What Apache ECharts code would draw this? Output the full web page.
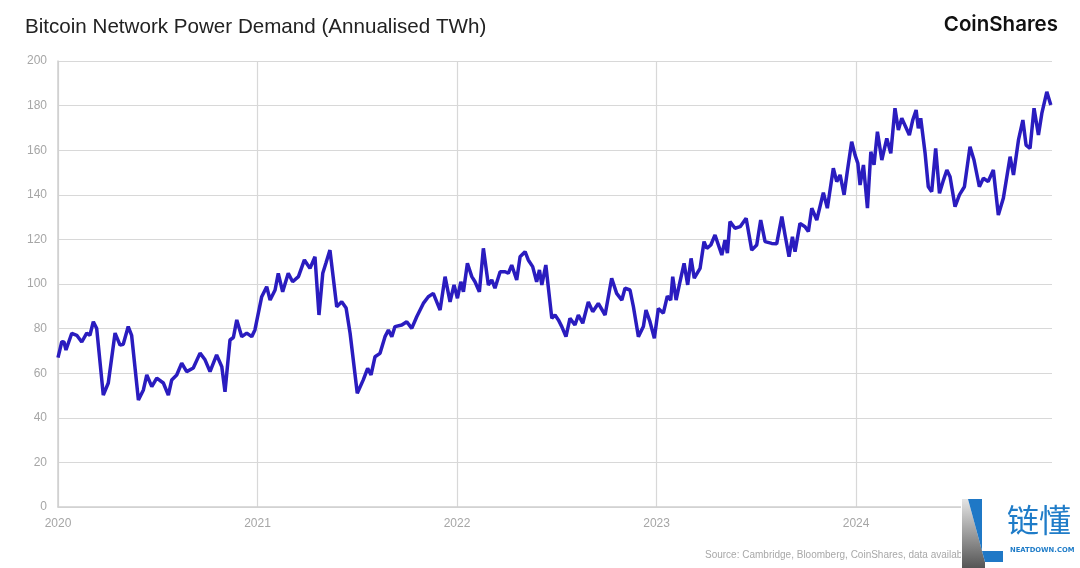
<!DOCTYPE html>
<html>
<head>
<meta charset="utf-8">
<script src="https://cdn.jsdelivr.net/npm/echarts@6/dist/echarts.min.js"></script>
<style>html,body{margin:0;padding:0;background:#fff;}#c{width:1080px;height:568px;}</style>
</head>
<body>
<div id="c"></div>
<script>
// Decimal year of each reading
const years = [
2020.000,2020.019,2020.030,2020.040,2020.069,2020.094,2020.119,2020.144,2020.160,2020.177,2020.194,
2020.227,2020.252,2020.286,2020.311,2020.327,2020.352,2020.369,2020.403,2020.428,2020.445,2020.470,
2020.495,2020.528,2020.553,2020.570,2020.595,2020.620,2020.645,2020.678,2020.712,2020.737,2020.762,
2020.795,2020.821,2020.837,2020.862,2020.879,2020.896,2020.921,2020.946,2020.971,2020.987,
2021.021,2021.046,2021.063,2021.088,2021.104,2021.126,2021.154,2021.176,2021.205,2021.235,2021.263,
2021.288,2021.308,2021.327,2021.343,2021.363,2021.397,2021.422,2021.444,2021.464,2021.500,2021.530,
2021.552,2021.569,2021.589,2021.614,2021.639,2021.656,2021.673,2021.689,2021.723,2021.748,2021.773,
2021.798,2021.831,2021.856,2021.881,2021.915,2021.940,2021.965,2021.985,
2022.002,2022.019,2022.032,2022.052,2022.074,2022.090,2022.112,2022.132,2022.157,2022.174,2022.190,
2022.216,2022.241,2022.257,2022.274,2022.299,2022.316,2022.341,2022.357,2022.379,2022.399,2022.413,
2022.425,2022.445,2022.475,2022.491,2022.508,2022.525,2022.546,2022.566,2022.591,2022.608,2022.630,
2022.658,2022.680,2022.708,2022.742,2022.775,2022.800,2022.826,2022.842,2022.867,2022.884,2022.909,
2022.934,2022.947,2022.967,2022.989,
2023.009,2023.034,2023.054,2023.071,2023.081,2023.098,2023.114,2023.138,2023.156,2023.173,2023.189,
2023.218,2023.238,2023.252,2023.272,2023.293,2023.327,2023.343,2023.355,2023.368,2023.393,2023.419,
2023.449,2023.477,2023.502,2023.522,2023.544,2023.577,2023.602,2023.628,2023.644,2023.664,2023.681,
2023.694,2023.719,2023.744,2023.761,2023.778,2023.803,2023.836,2023.856,2023.886,2023.903,2023.920,
2023.940,2023.956,2023.978,2023.995,
2024.009,2024.020,2024.037,2024.057,2024.074,2024.090,2024.107,2024.129,2024.154,2024.174,2024.195,
2024.212,2024.229,2024.246,2024.267,2024.284,2024.301,2024.312,2024.324,2024.346,2024.362,2024.379,
2024.399,2024.418,2024.438,2024.455,2024.471,2024.496,2024.518,2024.543,2024.571,2024.591,2024.618,
2024.638,2024.662,2024.688,2024.713,2024.738,2024.772,2024.789,2024.814,2024.836,2024.852,2024.872,
2024.892,2024.914,2024.931,2024.956,2024.976
];
// Annualised TWh
const powerTWh = [
67,74.1,74,70.4,77.9,77,74,78,77,83.1,80,
50.2,55.6,78,72.6,73,80.9,77,48,52.5,59.2,54,
57.8,55.6,50.2,57,59.2,64.5,60.7,62.3,69,66,60.7,
68.2,62.9,51.7,74.9,76,83.9,76.4,78,76.4,79.4,
94.3,98.8,92.8,97.3,104.8,96.5,104.8,101,103.3,110.8,107,
112.2,86.1,104.8,109.4,115.2,89.8,92,89.2,77.9,51,57,
62.2,59.2,67.4,68.9,76.4,79.4,76.4,80.9,81.6,83.1,80.1,
85.3,91.3,94.3,95.8,88.3,103.3,92,99.6,
93.6,101,96.5,109.3,103.3,101,96.5,116,99.6,101.8,98.1,
105.5,105.5,104.8,108.5,101.8,112.2,114.5,110.8,107.8,101,106.3,
99.6,108.5,84.6,86.1,83.9,80.9,76.4,84.6,81.6,86.1,82.4,
92,87.6,91.3,86.1,102.6,95.8,92.8,98.1,97.3,89.8,76.4,
80.9,88.3,83.1,75.7,
89,86.9,94.6,92.8,103.3,92.8,99.6,109.3,99.6,111.5,102.6,
107,119,116,117.5,122,113,119.7,113.8,128,125,125.7,
129.5,115.2,117.5,128.7,119,118.2,118,130.2,122,112.2,121.2,
114.5,127.2,125.7,123.5,134,128.7,141,134,151.9,145.9,148.9,
140,150.4,163.8,157.8,
154.1,144.4,153.4,134,159.3,153.4,168.3,155.6,165.3,158.6,178.8,
169.1,174.3,171,166.8,173.5,178,169.8,174.3,158.6,143.6,141.4,
160.8,140.7,146.6,151.1,148.1,134.7,140,143.6,161.6,155.6,143.6,
147.4,146,151.1,130.9,138.4,157.1,148.9,164.6,173.5,162.3,160.8,
178.8,166.8,176.5,186.2,180.3
];
const yearTicks = [2020, 2021, 2022, 2023, 2024];
const yTicks = [0, 20, 40, 60, 80, 100, 120, 140, 160, 180, 200];

const titleText = 'Bitcoin Network Power Demand (Annualised TWh)';
const brandText = 'CoinShares';
const sourceText = 'Source: Cambridge, Bloomberg, CoinShares, data available at https://ccaf.io/cbnsi/cbeci';

const pts = years.map((y, i) => [y, powerTWh[i]]);

const chart = echarts.init(document.getElementById('c'), null, {renderer: 'canvas'});
chart.setOption({
  animation: false,
  backgroundColor: '#ffffff',
  grid: {left: 58, right: 28, top: 61, bottom: 61, containLabel: false},
  xAxis: {
    type: 'value',
    min: yearTicks[0],
    max: 2024.982,
    interval: 1,
    axisLine: {show: true, lineStyle: {color: '#cfcfcf', width: 1.5}},
    axisTick: {show: false},
    splitLine: {show: true, showMaxLine: false, lineStyle: {color: '#d8d8d8', width: 1.2}},
    axisLabel: {
      color: '#a6a6a6', fontSize: 12, fontFamily: 'Liberation Sans', margin: 11,
      showMaxLabel: false,
      formatter: v => yearTicks.indexOf(Math.round(v)) >= 0 && Math.abs(v - Math.round(v)) < 1e-6 ? String(Math.round(v)) : ''
    }
  },
  yAxis: {
    type: 'value',
    min: yTicks[0],
    max: yTicks[yTicks.length - 1],
    interval: 20,
    axisLine: {show: true, lineStyle: {color: '#cfcfcf', width: 1.5}},
    axisTick: {show: false},
    splitLine: {show: true, lineStyle: {color: '#d8d8d8', width: 1.2}},
    axisLabel: {color: '#a6a6a6', fontSize: 12, fontFamily: 'Liberation Sans', margin: 11}
  },
  series: [{
    type: 'line',
    data: pts,
    showSymbol: false,
    smooth: false,
    lineStyle: {color: '#2a1cbf', width: 3.5},
    itemStyle: {color: '#2a1cbf'},
    z: 3
  }],
  graphic: [
    {type: 'text', left: 25, top: 17, z: 10,
     style: {text: titleText, fontSize: 20.6, fontFamily: 'Liberation Sans', fill: '#222222'}},
    {type: 'text', right: 22, top: 14, z: 10,
     style: {text: brandText, fontSize: 20.5, fontWeight: 600, fontFamily: 'Inter', fill: '#111111'}},
    {type: 'text', left: 705, top: 550, z: 10,
     style: {text: sourceText, fontSize: 10, fontFamily: 'Liberation Sans', fill: '#a8a8a8'}},
    {type: 'rect', z: 20, shape: {x: 961, y: 496, width: 119, height: 72}, style: {fill: '#ffffff'}},
    {type: 'polygon', z: 21,
     shape: {points: [[962, 499], [968, 499], [985, 562], [985, 568], [962, 568]]},
     style: {fill: new echarts.graphic.LinearGradient(0, 0, 0, 1, [
       {offset: 0, color: '#e4e4e4'}, {offset: 1, color: '#555555'}])}},
    {type: 'polygon', z: 22,
     shape: {points: [[968, 499], [982, 499], [982, 551], [1003, 551], [1003, 562], [985, 562]]},
     style: {fill: '#1f78c6'}},
    {type: 'text', left: 1007, top: 504, z: 22,
     style: {text: '链懂', fontSize: 32, fontFamily: 'Noto Sans CJK SC', fill: '#1f7cc8'}},
    {type: 'text', left: 1010, top: 547, z: 22,
     style: {text: 'NEATDOWN.COM', fontSize: 6.8, fontWeight: 'bold', fontFamily: 'DejaVu Sans', fill: '#1f7cc8'}}
  ]
});
</script>
</body>
</html>
